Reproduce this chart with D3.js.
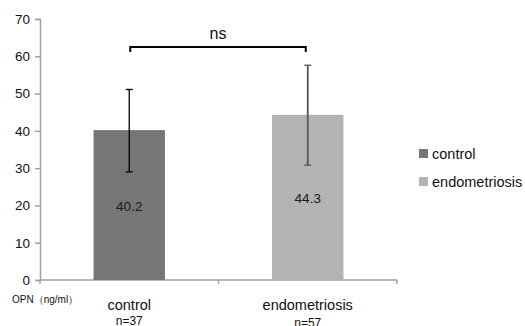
<!DOCTYPE html>
<html><head><meta charset="utf-8">
<script src="https://cdn.jsdelivr.net/npm/d3@7"></script>
<style>body{margin:0;background:#fff}svg{display:block;font-family:"Liberation Sans",Arial,sans-serif}</style>
</head><body><svg id="c" width="525" height="326"></svg>
<script>
const categories = ["control", "endometriosis"];
const sampleSizes = ["n=37", "n=57"];
const means = [40.2, 44.3];
const errLow = [29.0, 30.8];
const errHigh = [51.1, 57.6];
const barColors = ["#767676", "#b3b3b3"];
const errColors = ["#000000", "#555555"];
const yTicks = [0, 10, 20, 30, 40, 50, 60, 70];
const yLabel = "OPN（ng/ml）";
const sigLabel = "ns";

const svg = d3.select("#c");
const x = d3.scaleBand().domain(categories).range([40, 397]).paddingInner(0.6).paddingOuter(0.3);
const y = d3.scaleLinear().domain([0, 70]).range([280, 19]);

// y axis
const ya = svg.append("g").attr("transform", "translate(40,0)")
  .call(d3.axisLeft(y).tickValues(yTicks).tickSize(5).tickPadding(5).tickFormat(d3.format("d")));
ya.select(".domain").attr("stroke", "#a0a0a0").attr("stroke-width", 1.5);
ya.selectAll(".tick line").attr("stroke", "#a0a0a0").attr("stroke-width", 1.5);
ya.selectAll(".tick text").attr("font-size", 13.5).attr("fill", "#111").attr("font-family", "Liberation Sans, Arial, sans-serif");

// x axis line with ticks at band boundaries
const bounds = [40, 40 + (397 - 40) / 2, 397];
svg.append("line").attr("x1", 40).attr("x2", 397).attr("y1", y(0)).attr("y2", y(0)).attr("stroke", "#a0a0a0").attr("stroke-width", 1.5);
svg.selectAll(".xt").data(bounds).join("line").attr("x1", d => d).attr("x2", d => d)
  .attr("y1", y(0)).attr("y2", y(0) + 4).attr("stroke", "#a0a0a0").attr("stroke-width", 1.5);

// bars
svg.selectAll(".bar").data(categories).join("rect")
  .attr("x", d => x(d)).attr("width", x.bandwidth())
  .attr("y", (d, i) => y(means[i])).attr("height", (d, i) => y(0) - y(means[i]))
  .attr("fill", (d, i) => barColors[i]);

// error bars
const errWidths = [1.3, 1.8];
categories.forEach((c, i) => {
  const cx = x(c) + x.bandwidth() / 2;
  const g = svg.append("g").attr("stroke", errColors[i]).attr("stroke-width", errWidths[i]);
  g.append("line").attr("x1", cx).attr("x2", cx).attr("y1", y(errHigh[i])).attr("y2", y(errLow[i]));
  g.append("line").attr("x1", cx - 3.5).attr("x2", cx + 3.5).attr("y1", y(errHigh[i])).attr("y2", y(errHigh[i])).attr("stroke-width", 1.3);
  g.append("line").attr("x1", cx - 3.5).attr("x2", cx + 3.5).attr("y1", y(errLow[i])).attr("y2", y(errLow[i])).attr("stroke-width", 1.3);
});

// value labels
const labelVals = [19.8, 22];
svg.selectAll(".vl").data(categories).join("text")
  .attr("x", d => x(d) + x.bandwidth() / 2)
  .attr("y", (d, i) => y(labelVals[i]) + 5)
  .attr("text-anchor", "middle").attr("font-size", 13.5).attr("fill", "#1a1a1a")
  .text((d, i) => means[i].toFixed(1));

// significance bracket
const bx1 = x(categories[0]) + x.bandwidth() / 2 + 1;
const bx2 = x(categories[1]) + x.bandwidth() / 2 - 2;
svg.append("path").attr("d", `M${bx1},52 V47 H${bx2} V52`).attr("fill", "none").attr("stroke", "#000").attr("stroke-width", 2);
svg.append("text").attr("x", (bx1 + bx2) / 2).attr("y", 39).attr("text-anchor", "middle").attr("font-size", 16).attr("fill", "#111").text(sigLabel);

// x labels
svg.selectAll(".xl").data(categories).join("text")
  .attr("x", d => x(d) + x.bandwidth() / 2).attr("y", 310)
  .attr("text-anchor", "middle").attr("font-size", 14.5).attr("fill", "#111").text(d => d);
svg.selectAll(".xn").data(categories).join("text")
  .attr("x", d => x(d) + x.bandwidth() / 2).attr("y", (d, i) => 325 + i * 1.5)
  .attr("text-anchor", "middle").attr("font-size", 12).attr("fill", "#111").text((d, i) => sampleSizes[i]);

// y label
svg.append("text").attr("x", 12).attr("y", 303).attr("font-size", 10).attr("fill", "#111").text(yLabel);

// legend
const lg = svg.append("g").attr("transform", "translate(419,149)");
categories.forEach((c, i) => {
  lg.append("rect").attr("x", 0).attr("y", i * 28).attr("width", 9).attr("height", 9).attr("fill", barColors[i]);
  lg.append("text").attr("x", 13).attr("y", i * 28 + 10).attr("font-size", 14.5).attr("fill", "#111").text(c);
});
</script></body></html>
